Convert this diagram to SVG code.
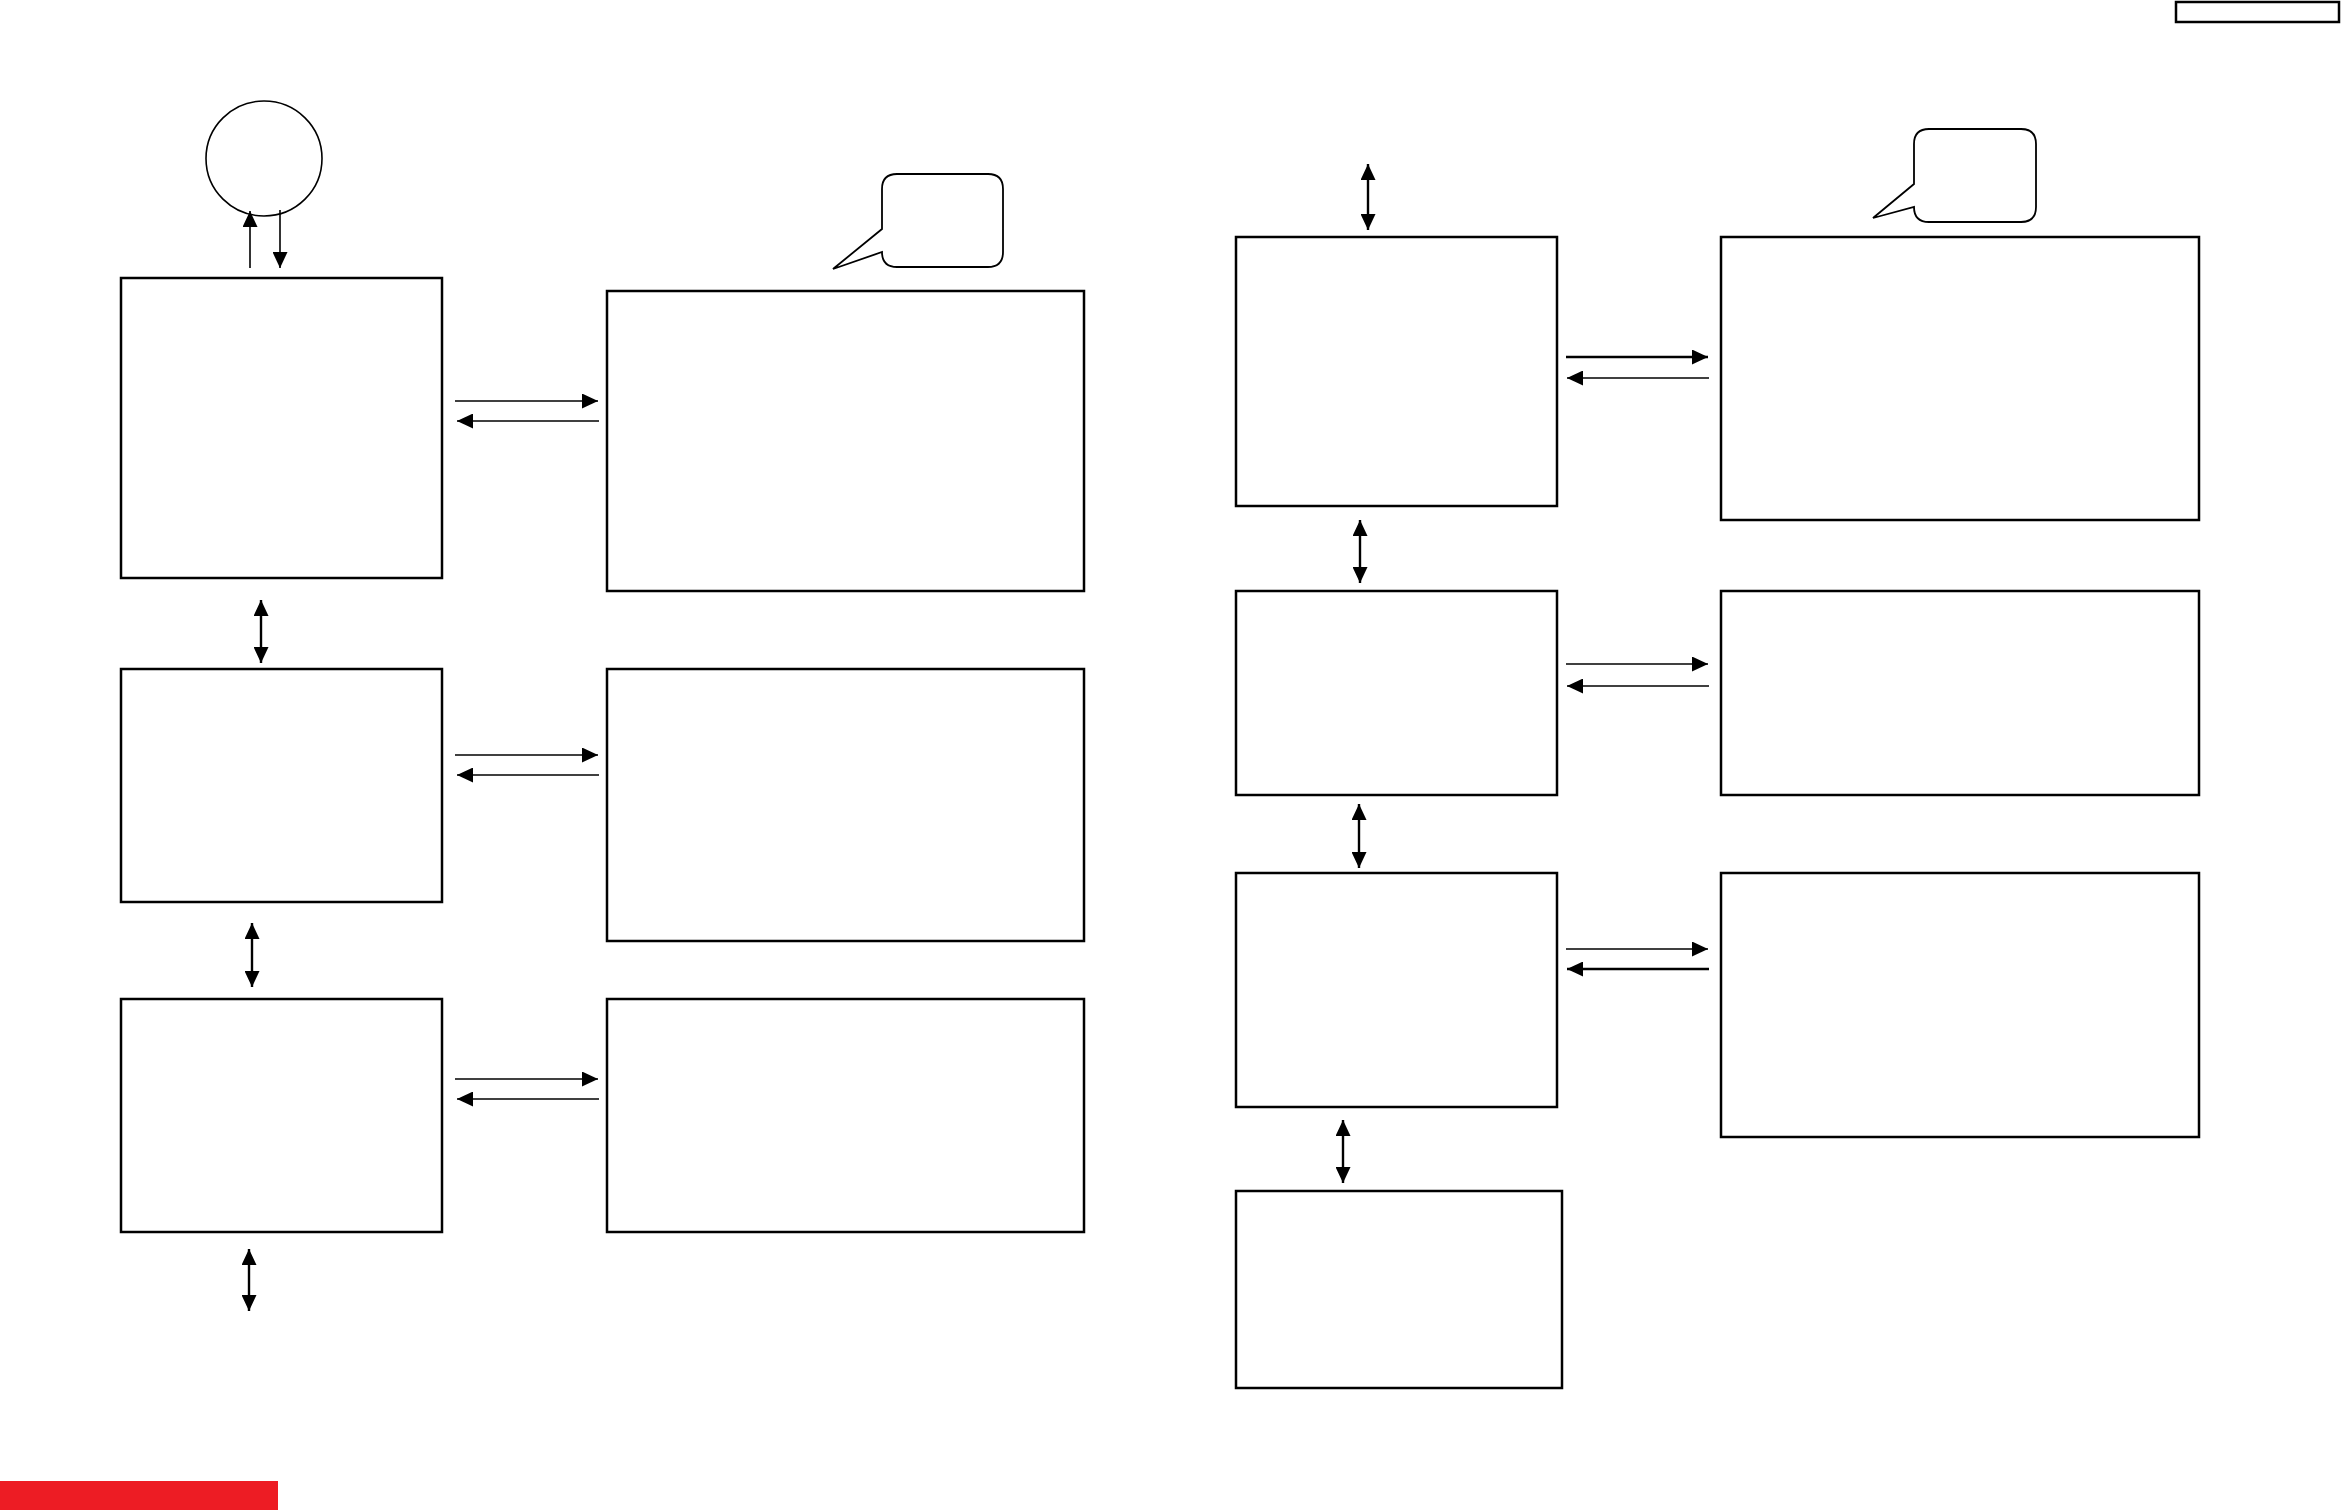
<svg xmlns="http://www.w3.org/2000/svg" width="2342" height="1510" viewBox="0 0 2342 1510">
<style>
.box{fill:#fff;stroke:#000;stroke-width:2.5}
.thin{fill:none;stroke:#000;stroke-width:1.6}
.bub{fill:#fff;stroke:#000;stroke-width:1.8}
.ln{stroke:#000;stroke-width:1.6;fill:none}
.lnb{stroke:#000;stroke-width:2.4;fill:none}
.e{marker-end:url(#ah)}
.d{marker-end:url(#ah);marker-start:url(#ah)}
</style>
<defs>
<marker id="ah" markerUnits="userSpaceOnUse" markerWidth="16" markerHeight="15" refX="16" refY="7.5" orient="auto-start-reverse">
<path d="M0,0 L16,7.5 L0,15 z" fill="#000"/>
</marker>
</defs>
<rect width="2342" height="1510" fill="#fff"/>
<g id="corner-tag"><rect class="box" x="2176" y="2" width="163" height="20" stroke-width="2"/></g>
<g id="red-bar"><rect x="0" y="1481" width="278" height="29" fill="#ed1c24"/></g>

<g id="circle"><ellipse class="thin" cx="264" cy="158.5" rx="58" ry="57.5"/></g>
<g id="bubble1"><path class="bub" d="M897,174 H988 Q1003,174 1003,189 V252 Q1003,267 988,267 H897 Q882,267 882,252 L833,269 L882,229 V189 Q882,174 897,174 Z"/></g>
<g id="bubble2"><path class="bub" d="M1929,129 H2021 Q2036,129 2036,144 V207 Q2036,222 2021,222 H1929 Q1914,222 1914,207 L1873,218 L1914,184 V144 Q1914,129 1929,129 Z"/></g>

<g id="L1"><rect class="box" x="121" y="278" width="321" height="300"/></g>
<g id="R1"><rect class="box" x="607" y="291" width="477" height="300"/></g>
<g id="L2"><rect class="box" x="121" y="669" width="321" height="233"/></g>
<g id="R2"><rect class="box" x="607" y="669" width="477" height="272"/></g>
<g id="L3"><rect class="box" x="121" y="999" width="321" height="233"/></g>
<g id="R3"><rect class="box" x="607" y="999" width="477" height="233"/></g>
<g id="A"><rect class="box" x="1236" y="237" width="321" height="269"/></g>
<g id="B"><rect class="box" x="1721" y="237" width="478" height="283"/></g>
<g id="C"><rect class="box" x="1236" y="591" width="321" height="204"/></g>
<g id="D"><rect class="box" x="1721" y="591" width="478" height="204"/></g>
<g id="E"><rect class="box" x="1236" y="873" width="321" height="234"/></g>
<g id="F"><rect class="box" x="1721" y="873" width="478" height="264"/></g>
<g id="G"><rect class="box" x="1236" y="1191" width="326" height="197"/></g>

<g id="connectors">
<line class="ln e" x1="250" y1="268" x2="250" y2="211"/>
<line class="ln e" x1="280" y1="210" x2="280" y2="268"/>

<line class="ln e" x1="455" y1="401" x2="598" y2="401"/>
<line class="ln e" x1="599" y1="421" x2="457" y2="421"/>
<line class="ln e" x1="455" y1="755" x2="598" y2="755"/>
<line class="ln e" x1="599" y1="775" x2="457" y2="775"/>
<line class="ln e" x1="455" y1="1079" x2="598" y2="1079"/>
<line class="ln e" x1="599" y1="1099" x2="457" y2="1099"/>

<line class="lnb e" x1="1566" y1="357" x2="1708" y2="357"/>
<line class="ln e" x1="1709" y1="378" x2="1567" y2="378"/>
<line class="ln e" x1="1566" y1="664" x2="1708" y2="664"/>
<line class="ln e" x1="1709" y1="686" x2="1567" y2="686"/>
<line class="ln e" x1="1566" y1="949" x2="1708" y2="949"/>
<line class="lnb e" x1="1709" y1="969" x2="1567" y2="969"/>

<line class="lnb d" x1="261" y1="600" x2="261" y2="663"/>
<line class="lnb d" x1="252" y1="923" x2="252" y2="987"/>
<line class="lnb d" x1="249" y1="1249" x2="249" y2="1311"/>
<line class="lnb d" x1="1368" y1="164" x2="1368" y2="230"/>
<line class="lnb d" x1="1360" y1="520" x2="1360" y2="583"/>
<line class="lnb d" x1="1359" y1="804" x2="1359" y2="868"/>
<line class="lnb d" x1="1343" y1="1120" x2="1343" y2="1183"/>
</g>
</svg>
